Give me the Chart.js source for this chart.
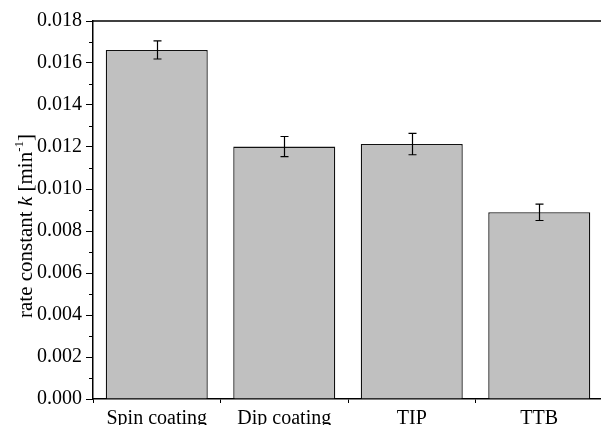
<!DOCTYPE html>
<html>
<head>
<meta charset="utf-8">
<script src="https://cdn.jsdelivr.net/npm/chart.js@4.4.1/dist/chart.umd.min.js"></script>
<style>
  html, body { margin: 0; padding: 0; background: #fff; overflow: hidden; }
  #wrap { width: 604px; height: 425px; }
</style>
</head>
<body>
<div id="wrap"><canvas id="bars"></canvas></div>
<script>
const categories = ['Spin coating', 'Dip coating', 'TIP', 'TTB'];
const rates = [0.01662, 0.01202, 0.01214, 0.00889];
const rateErrors = [0.00043, 0.00048, 0.00051, 0.00039];

const FONT = 'Liberation Serif';

// error bars, drawn on top of the bars
const errorBars = {
    id: 'errorBars',
    afterDatasetsDraw(chart) {
        const ctx = chart.ctx;
        const y = chart.scales.y;
        const bars = chart.getDatasetMeta(0).data;
        ctx.save();
        ctx.strokeStyle = '#000';
        ctx.lineWidth = 1.2;
        bars.forEach((bar, i) => {
            const top = y.getPixelForValue(rates[i] + rateErrors[i]);
            const bot = y.getPixelForValue(rates[i] - rateErrors[i]);
            const x = Math.round(bar.x) + 0.5;
            ctx.beginPath();
            ctx.moveTo(x, top); ctx.lineTo(x, bot);
            ctx.moveTo(x - 4, top); ctx.lineTo(x + 4, top);
            ctx.moveTo(x - 4, bot); ctx.lineTo(x + 4, bot);
            ctx.stroke();
        });
        ctx.restore();
    }
};

// top frame line, minor ticks and the y title with italic k and superscript
const decorations = {
    id: 'decorations',
    afterDraw(chart) {
        const ctx = chart.ctx;
        const a = chart.chartArea;
        const y = chart.scales.y;
        ctx.save();
        ctx.strokeStyle = '#000';
        ctx.lineWidth = 1.5;
        ctx.beginPath();
        ctx.moveTo(a.left, a.top); ctx.lineTo(a.right + 5, a.top);
        ctx.stroke();

        // minor ticks
        ctx.lineWidth = 1;
        ctx.beginPath();
        for (let v = 0.001; v < 0.018; v += 0.002) {
            const py = Math.round(y.getPixelForValue(v)) + 0.5;
            ctx.moveTo(a.left - 4, py); ctx.lineTo(a.left, py);
        }
        ctx.stroke();

        // y title
        const parts = [
            { t: 'rate constant ', f: '21px "' + FONT + '"', dy: 0 },
            { t: 'k', f: 'italic 21px "' + FONT + '"', dy: 0 },
            { t: ' [min', f: '21px "' + FONT + '"', dy: 0 },
            { t: '-1', f: '13px "' + FONT + '"', dy: -9 },
            { t: ']', f: '21px "' + FONT + '"', dy: 0 }
        ];
        let total = 0;
        parts.forEach(p => { ctx.font = p.f; p.w = ctx.measureText(p.t).width; total += p.w; });
        ctx.translate(32, 226);
        ctx.rotate(-Math.PI / 2);
        ctx.fillStyle = '#000';
        ctx.textBaseline = 'alphabetic';
        let x = -total / 2;
        parts.forEach(p => {
            ctx.font = p.f;
            ctx.fillText(p.t, x, p.dy);
            x += p.w;
        });
        ctx.restore();
    }
};

new Chart(document.getElementById('bars'), {
    type: 'bar',
    data: {
        labels: categories,
        datasets: [{
            data: rates,
            backgroundColor: '#c0c0c0',
            borderColor: '#111',
            borderWidth: 1.3,
            borderSkipped: 'bottom',
            barPercentage: 0.8,
            categoryPercentage: 1.0
        }]
    },
    options: {
        responsive: true,
        maintainAspectRatio: false,
        animation: false,
        layout: { padding: { top: 21, right: 1, left: 0, bottom: 0 } },
        plugins: {
            legend: { display: false },
            tooltip: { enabled: false }
        },
        scales: {
            x: {
                offset: true,
                grid: { offset: true, drawOnChartArea: false, tickLength: 4, color: '#000', lineWidth: 1 },
                border: { color: '#000', width: 1.5 },
                ticks: { color: '#000', font: { family: FONT, size: 20 }, padding: 4, maxRotation: 0 },
                afterFit(scale) { scale.height = 26; }
            },
            y: {
                min: 0,
                max: 0.018,
                grid: { drawOnChartArea: false, tickLength: 7, color: '#000', lineWidth: 1 },
                border: { color: '#000', width: 1.5 },
                ticks: {
                    stepSize: 0.002,
                    color: '#000',
                    padding: 4,
                    font: { family: FONT, size: 20 },
                    callback: v => v.toFixed(3)
                },
                afterFit(scale) { scale.width = 93; }
            }
        }
    },
    plugins: [errorBars, decorations]
});
</script>
</body>
</html>
